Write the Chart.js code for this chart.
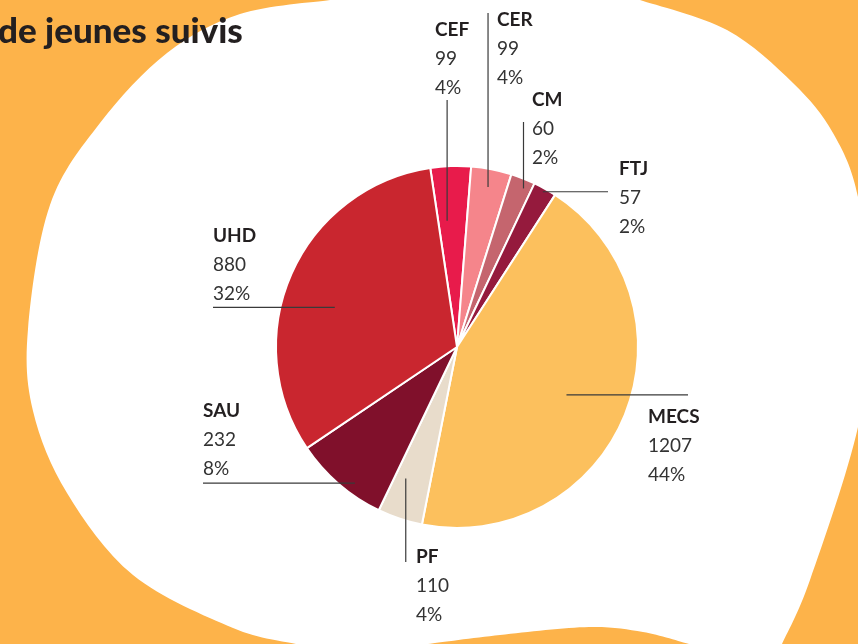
<!DOCTYPE html>
<html>
<head>
<meta charset="utf-8">
<script src="https://cdn.jsdelivr.net/npm/chart.js@4.4.1/dist/chart.umd.min.js"></script>
<style>
  html, body { margin: 0; padding: 0; background: #FDB34A; overflow: hidden; }
  canvas { display: block; }
</style>
</head>
<body>
<canvas id="pie" width="858" height="644"></canvas>
<script>
// --- Data ---
const categories = ['CEF', 'CER', 'CM', 'FTJ', 'MECS', 'PF', 'SAU', 'UHD'];
const youthCounts = [99, 99, 60, 57, 1207, 110, 232, 880];
const sliceColors = ['#E81B4B', '#F5858B', '#C5656E', '#951A3D', '#FCC05D', '#E8DCCB', '#80102B', '#C9262F'];
const titleText = 'de jeunes suivis';

// label placement: t = position across the slice, r = fraction of radius,
// dir = vertical / horizontal leader, end = where the leader stops, tx/ty = text anchor
const labelLayout = [
    { t: 0.31, r: 0.70, dir: 'v', end: 100, tx: 435, ty: 36 },
    { t: 0.50, r: 0.90, dir: 'v', end: 13,  tx: 497, ty: 26 },
    { t: 0.67, r: 0.95, dir: 'v', end: 122, tx: 532, ty: 106 },
    { t: 0.48, r: 0.98, dir: 'h', end: 608, tx: 619, ty: 175 },
    { t: 0.51, r: 0.66, dir: 'h', end: 688, tx: 648, ty: 423 },
    { t: 0.70, r: 0.78, dir: 'v', end: 562, tx: 416, ty: 563 },
    { t: 0.37, r: 0.94, dir: 'h', end: 203, tx: 203, ty: 417 },
    { t: 0.45, r: 0.71, dir: 'h', end: 213, tx: 213, ty: 242 }
];

const total = youthCounts.reduce((a, b) => a + b, 0);

// smooth curve through points (catmull-rom -> bezier)
function splineThrough(ctx, pts) {
    ctx.lineTo(pts[0][0], pts[0][1]);
    for (let i = 0; i < pts.length - 1; i++) {
        const p0 = pts[i - 1] || pts[i], p1 = pts[i], p2 = pts[i + 1], p3 = pts[i + 2] || p2;
        ctx.bezierCurveTo(
            p1[0] + (p2[0] - p0[0]) / 6, p1[1] + (p2[1] - p0[1]) / 6,
            p2[0] - (p3[0] - p1[0]) / 6, p2[1] - (p3[1] - p1[1]) / 6,
            p2[0], p2[1]);
    }
}

const backdrop = {
    id: 'backdrop',
    beforeDraw(chart) {
        const ctx = chart.ctx;
        ctx.save();
        ctx.fillStyle = '#FDB34A';
        ctx.fillRect(0, 0, chart.width, chart.height);

        // white blob
        ctx.beginPath();
        ctx.moveTo(330, 0);
        splineThrough(ctx, [[640, 0], [727, 30], [793, 83], [833, 133], [858, 197], [870, 310], [858, 427], [810, 580], [782, 644]]);
        splineThrough(ctx, [[689, 644], [643, 632], [589, 627], [500, 635], [428, 644]]);
        splineThrough(ctx, [[296, 644], [233, 628], [133, 575], [67, 493], [33, 411], [28, 329], [50, 205], [100, 123], [167, 53], [240, 14], [330, 0]]);
        ctx.closePath();
        ctx.fillStyle = '#FFFFFF';
        ctx.fill();

        ctx.fillStyle = '#231F20';
        ctx.font = '900 35px Lato';
        ctx.textBaseline = 'alphabetic';
        ctx.fillText(titleText, -2, 43);
        ctx.restore();
    }
};

const leaderLabels = {
    id: 'leaderLabels',
    afterDatasetsDraw(chart) {
        const ctx = chart.ctx;
        const meta = chart.getDatasetMeta(0);
        ctx.save();
        meta.data.forEach((arc, i) => {
            const p = arc.getProps(['x', 'y', 'startAngle', 'endAngle', 'outerRadius'], true);
            const lay = labelLayout[i];
            const ang = p.startAngle + lay.t * (p.endAngle - p.startAngle);
            const ax = p.x + Math.cos(ang) * p.outerRadius * lay.r;
            const ay = p.y + Math.sin(ang) * p.outerRadius * lay.r;

            ctx.strokeStyle = '#3A3A3A';
            ctx.lineWidth = 1.2;
            ctx.beginPath();
            ctx.moveTo(ax, ay);
            if (lay.dir === 'v') ctx.lineTo(ax, lay.end);
            else ctx.lineTo(lay.end, ay);
            ctx.stroke();

            ctx.textAlign = 'left';
            ctx.textBaseline = 'alphabetic';
            ctx.fillStyle = '#231F20';
            ctx.font = 'bold 19px Lato';
            ctx.fillText(categories[i], lay.tx, lay.ty);
            ctx.fillStyle = '#333333';
            ctx.font = '19px Lato';
            ctx.fillText(String(youthCounts[i]), lay.tx, lay.ty + 29);
            ctx.fillText(Math.round(youthCounts[i] / total * 100) + '%', lay.tx, lay.ty + 58);
        });
        ctx.restore();
    }
};

new Chart(document.getElementById('pie'), {
    type: 'pie',
    data: {
        labels: categories,
        datasets: [{
            data: youthCounts,
            backgroundColor: sliceColors,
            borderColor: '#FFFFFF',
            borderWidth: 2,
            hoverOffset: 0,
            offset: 0
        }]
    },
    options: {
        responsive: false,
        animation: false,
        rotation: -8.5,
        layout: { padding: { left: 275, right: 219, top: 165, bottom: 115 } },
        plugins: {
            legend: { display: false },
            tooltip: { enabled: false }
        },
        events: []
    },
    plugins: [backdrop, leaderLabels]
});
</script>
</body>
</html>
